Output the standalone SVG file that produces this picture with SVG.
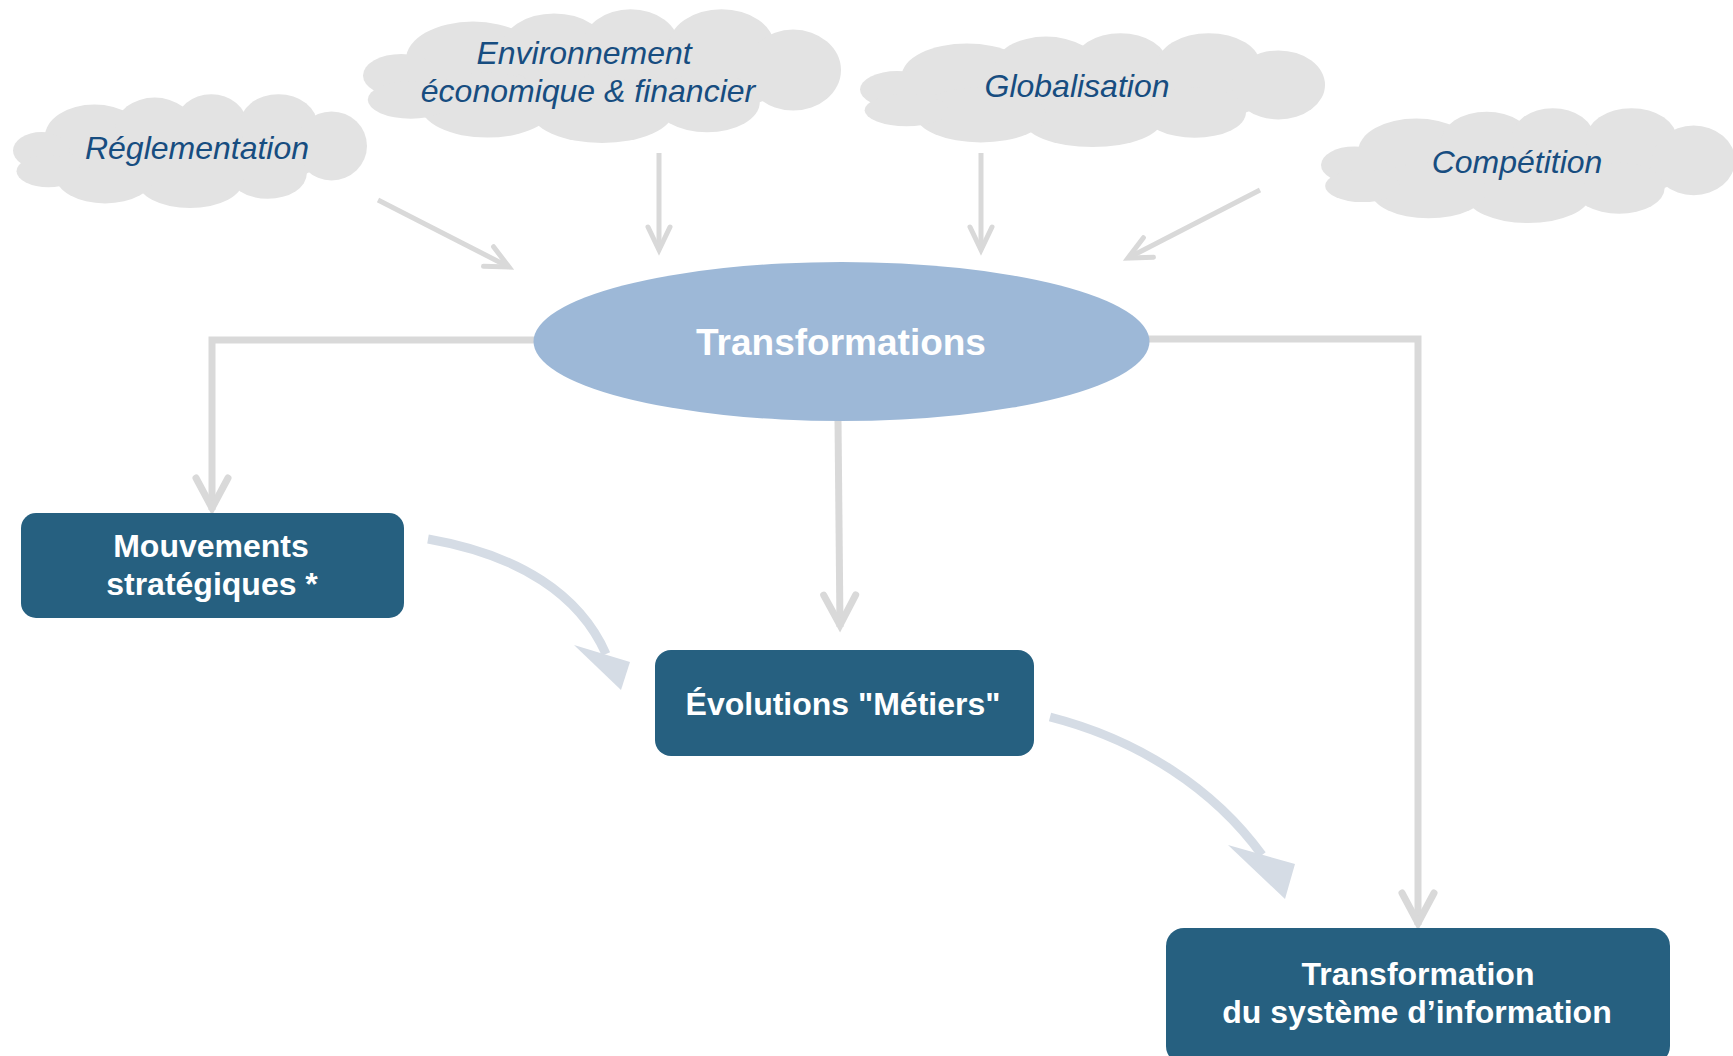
<svg xmlns="http://www.w3.org/2000/svg" xmlns:xlink="http://www.w3.org/1999/xlink" width="1733" height="1056" viewBox="0 0 1733 1056">
  <style>
    .cloud { fill: #e3e3e3; }
    .cloud-text { font-family: "Liberation Sans", Arial, sans-serif; font-style: italic; font-size: 32px; fill: #174d80; text-anchor: middle; }
    .hub { fill: #9db8d7; }
    .hub-text { font-family: "Liberation Sans", Arial, sans-serif; font-weight: bold; font-size: 37px; fill: #ffffff; text-anchor: middle; }
    .box { fill: #266080; }
    .box-text { font-family: "Liberation Sans", Arial, sans-serif; font-weight: bold; font-size: 32px; fill: #ffffff; text-anchor: middle; }
    .thin { fill: none; stroke: #d9d9d9; stroke-width: 5; marker-end: url(#chevron-small); }
    .thick { fill: none; stroke: #d9d9d9; stroke-width: 7; stroke-linejoin: miter; marker-end: url(#chevron-large); }
    .flow { fill: none; stroke: #d5dce5; stroke-width: 9; }
    .flow-head { fill: #d5dce5; }
  </style>
  <defs>
    <!-- cloud outline built from overlapping lobes -->
    <symbol id="cloud" viewBox="0 0 100 100" preserveAspectRatio="none">
      <ellipse cx="50" cy="55" rx="38" ry="30"/>
      <ellipse cx="23" cy="38" rx="14" ry="28"/>
      <ellipse cx="40" cy="30" rx="11" ry="26"/>
      <ellipse cx="56" cy="27" rx="10" ry="26"/>
      <ellipse cx="75" cy="28" rx="11" ry="27"/>
      <ellipse cx="90" cy="46" rx="10" ry="30"/>
      <ellipse cx="72" cy="70" rx="11" ry="22"/>
      <ellipse cx="50" cy="76" rx="15" ry="24"/>
      <ellipse cx="26" cy="72" rx="14" ry="24"/>
      <ellipse cx="8" cy="50" rx="8" ry="16"/>
      <ellipse cx="10" cy="68" rx="9" ry="14"/>
    </symbol>
    <marker id="chevron-small" markerUnits="userSpaceOnUse" orient="auto" refX="0" refY="0" markerWidth="30" markerHeight="30" overflow="visible">
      <path d="M-23,-11 L0,0 L-23,11" fill="none" stroke="#d9d9d9" stroke-width="5" stroke-linecap="round"/>
    </marker>
    <marker id="chevron-large" markerUnits="userSpaceOnUse" orient="auto" refX="0" refY="0" markerWidth="40" markerHeight="40" overflow="visible">
      <path d="M-32,-16 L-2,0 L-32,16" fill="none" stroke="#d9d9d9" stroke-width="7" stroke-linecap="round"/>
    </marker>
  </defs>

  <!-- connectors -->
  <g id="connectors">
    <line class="thin" x1="378" y1="200" x2="509" y2="267"/>
    <line class="thin" x1="659" y1="153" x2="659" y2="250"/>
    <line class="thin" x1="981" y1="153" x2="981" y2="250"/>
    <line class="thin" x1="1260" y1="190" x2="1128" y2="258"/>
    <path class="thick" d="M536,340 H212 V510"/>
    <path class="thick" d="M838,420 L840,627"/>
    <path class="thick" d="M1148,339 H1418 V925"/>
    <path class="flow" d="M428,539 C520,555 580,595 606,654"/>
    <polygon class="flow-head" points="574,645 621,690 630,662"/>
    <path class="flow" d="M1050,717 C1140,740 1215,790 1262,855"/>
    <polygon class="flow-head" points="1228,845 1285,899 1295,864"/>
  </g>

  <g id="reglementation">
    <use href="#cloud" class="cloud" x="13" y="93" width="354" height="115"/>
    <text class="cloud-text" x="197" y="159">Réglementation</text>
  </g>
  <g id="environnement">
    <use href="#cloud" class="cloud" x="363" y="8" width="478" height="135"/>
    <text class="cloud-text" x="584" y="64">Environnement</text>
    <text class="cloud-text" x="588" y="102">économique &amp; financier</text>
  </g>
  <g id="globalisation">
    <use href="#cloud" class="cloud" x="860" y="32" width="465" height="115"/>
    <text class="cloud-text" x="1077" y="97">Globalisation</text>
  </g>
  <g id="competition">
    <use href="#cloud" class="cloud" x="1321" y="107" width="414" height="116"/>
    <text class="cloud-text" x="1517" y="173">Compétition</text>
  </g>

  <g id="transformations">
    <ellipse class="hub" cx="841.5" cy="341.5" rx="308" ry="79.5"/>
    <text class="hub-text" x="841" y="355">Transformations</text>
  </g>

  <g id="mouvements">
    <rect class="box" x="21" y="513" width="383" height="105" rx="15"/>
    <text class="box-text" x="211" y="557">Mouvements</text>
    <text class="box-text" x="212" y="595">stratégiques *</text>
  </g>
  <g id="evolutions">
    <rect class="box" x="655" y="650" width="379" height="106" rx="16"/>
    <text class="box-text" x="843" y="715">Évolutions "Métiers"</text>
  </g>
  <g id="transformation-si">
    <rect class="box" x="1166" y="928" width="504" height="136" rx="18"/>
    <text class="box-text" x="1418" y="985">Transformation</text>
    <text class="box-text" x="1417" y="1023">du système d’information</text>
  </g>
</svg>
